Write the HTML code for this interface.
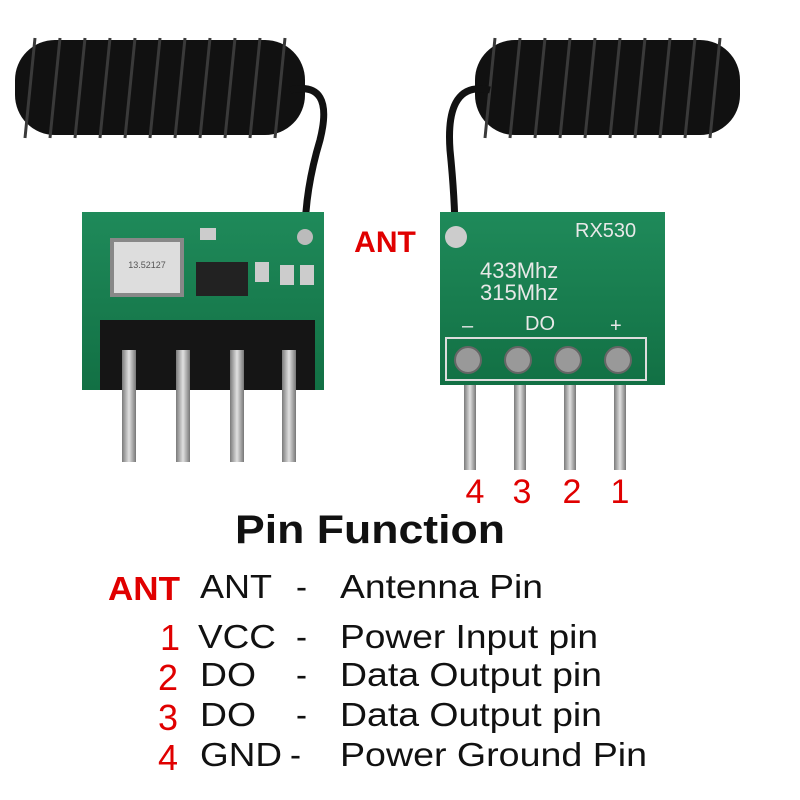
<!DOCTYPE html>
<html><head><meta charset="utf-8"><style>
html,body{margin:0;padding:0;background:#fff;}
svg{display:block}
text{font-family:"Liberation Sans",sans-serif;}
</style></head><body>
<svg width="800" height="800" viewBox="0 0 800 800" xmlns="http://www.w3.org/2000/svg">
<defs>
<linearGradient id="pin" x1="0" x2="1"><stop offset="0" stop-color="#7a7a7a"/><stop offset="0.5" stop-color="#e0e0e0"/><stop offset="1" stop-color="#777"/></linearGradient>
<linearGradient id="pcb" x1="0" y1="0" x2="0" y2="1"><stop offset="0" stop-color="#1f8a5a"/><stop offset="1" stop-color="#127044"/></linearGradient>
</defs>
<rect x="15" y="40" width="290" height="95" rx="40" fill="#111"/>
<g stroke="#3a3a3a" stroke-width="3">
<line x1="35" y1="38" x2="25" y2="138"/><line x1="60" y1="38" x2="50" y2="138"/><line x1="85" y1="38" x2="75" y2="138"/><line x1="110" y1="38" x2="100" y2="138"/><line x1="135" y1="38" x2="125" y2="138"/><line x1="160" y1="38" x2="150" y2="138"/><line x1="185" y1="38" x2="175" y2="138"/><line x1="210" y1="38" x2="200" y2="138"/><line x1="235" y1="38" x2="225" y2="138"/><line x1="260" y1="38" x2="250" y2="138"/><line x1="285" y1="38" x2="275" y2="138"/>
</g>
<path d="M290 90 Q335 80 320 140 Q305 190 305 235" stroke="#111" stroke-width="7" fill="none"/>
<rect x="475" y="40" width="265" height="95" rx="40" fill="#111"/>
<g stroke="#3a3a3a" stroke-width="3">
<line x1="495" y1="38" x2="485" y2="138"/><line x1="520" y1="38" x2="510" y2="138"/><line x1="545" y1="38" x2="535" y2="138"/><line x1="570" y1="38" x2="560" y2="138"/><line x1="595" y1="38" x2="585" y2="138"/><line x1="620" y1="38" x2="610" y2="138"/><line x1="645" y1="38" x2="635" y2="138"/><line x1="670" y1="38" x2="660" y2="138"/><line x1="695" y1="38" x2="685" y2="138"/><line x1="720" y1="38" x2="710" y2="138"/>
</g>
<path d="M490 90 Q445 80 450 150 Q455 200 455 235" stroke="#111" stroke-width="7" fill="none"/>

<rect x="82" y="212" width="242" height="178" fill="url(#pcb)"/>
<rect x="112" y="240" width="70" height="55" fill="#ddd" stroke="#888" stroke-width="4"/>
<text x="147" y="268" font-size="9" text-anchor="middle" fill="#555">13.52127</text>
<rect x="196" y="262" width="52" height="34" fill="#222"/>
<rect x="200" y="228" width="16" height="12" fill="#ccc"/><rect x="255" y="262" width="14" height="20" fill="#ccc"/><rect x="280" y="265" width="14" height="20" fill="#ccc"/><rect x="300" y="265" width="14" height="20" fill="#ccc"/>
<circle cx="305" cy="237" r="8" fill="#bbb"/>
<rect x="100" y="320" width="215" height="70" fill="#151515"/>
<g fill="url(#pin)">
<rect x="122" y="350" width="14" height="112"/><rect x="176" y="350" width="14" height="112"/><rect x="230" y="350" width="14" height="112"/><rect x="282" y="350" width="14" height="112"/>
</g>
<rect x="440" y="212" width="225" height="173" fill="url(#pcb)"/>
<circle cx="456" cy="237" r="11" fill="#ccc"/>
<text x="575" y="237" font-size="20" fill="#e8e8e8" font-family="Liberation Serif">RX530</text>
<text x="480" y="278" font-size="22" fill="#e8e8e8" font-family="Liberation Serif">433Mhz</text>
<text x="480" y="300" font-size="22" fill="#e8e8e8" font-family="Liberation Serif">315Mhz</text>
<text x="525" y="330" font-size="20" fill="#e8e8e8">DO</text>
<text x="462" y="332" font-size="20" fill="#e8e8e8">–</text>
<text x="610" y="332" font-size="20" fill="#e8e8e8">+</text>
<rect x="446" y="338" width="200" height="42" fill="none" stroke="#ddd" stroke-width="2"/>
<g fill="#999" stroke="#666" stroke-width="2">
<circle cx="468" cy="360" r="13"/><circle cx="518" cy="360" r="13"/><circle cx="568" cy="360" r="13"/><circle cx="618" cy="360" r="13"/>
</g>
<g fill="url(#pin)">
<rect x="464" y="385" width="12" height="85"/><rect x="514" y="385" width="12" height="85"/><rect x="564" y="385" width="12" height="85"/><rect x="614" y="385" width="12" height="85"/>
</g>
<g fill="#e00000" text-anchor="middle">
<text x="385" y="252" font-size="30" font-weight="bold">ANT</text>
<text x="475" y="503" font-size="34">4</text><text x="522" y="503" font-size="34">3</text><text x="572" y="503" font-size="34">2</text><text x="620" y="503" font-size="34">1</text>
</g>
<text x="235" y="543" font-size="40" font-weight="bold" fill="#111" textLength="270" lengthAdjust="spacingAndGlyphs">Pin Function</text>
<g font-size="33" fill="#111">
<text x="200" y="598" textLength="72" lengthAdjust="spacingAndGlyphs">ANT</text><text x="296" y="598">-</text><text x="340" y="598" textLength="203" lengthAdjust="spacingAndGlyphs">Antenna Pin</text>
<text x="198" y="648" textLength="78" lengthAdjust="spacingAndGlyphs">VCC</text><text x="296" y="648">-</text><text x="340" y="648" textLength="258" lengthAdjust="spacingAndGlyphs">Power Input pin</text>
<text x="200" y="686" textLength="56" lengthAdjust="spacingAndGlyphs">DO</text><text x="296" y="686">-</text><text x="340" y="686" textLength="262" lengthAdjust="spacingAndGlyphs">Data Output pin</text>
<text x="200" y="726" textLength="56" lengthAdjust="spacingAndGlyphs">DO</text><text x="296" y="726">-</text><text x="340" y="726" textLength="262" lengthAdjust="spacingAndGlyphs">Data Output pin</text>
<text x="200" y="766" textLength="82" lengthAdjust="spacingAndGlyphs">GND</text><text x="290" y="766">-</text><text x="340" y="766" textLength="307" lengthAdjust="spacingAndGlyphs">Power Ground Pin</text>
</g>
<g fill="#e00000" text-anchor="middle">
<text x="108" y="600" font-weight="bold" font-size="33" text-anchor="start" textLength="72" lengthAdjust="spacingAndGlyphs">ANT</text>
<text x="170" y="650" font-size="36">1</text><text x="168" y="690" font-size="36">2</text><text x="168" y="730" font-size="36">3</text><text x="168" y="770" font-size="36">4</text>
</g>
</svg>
</body></html>
